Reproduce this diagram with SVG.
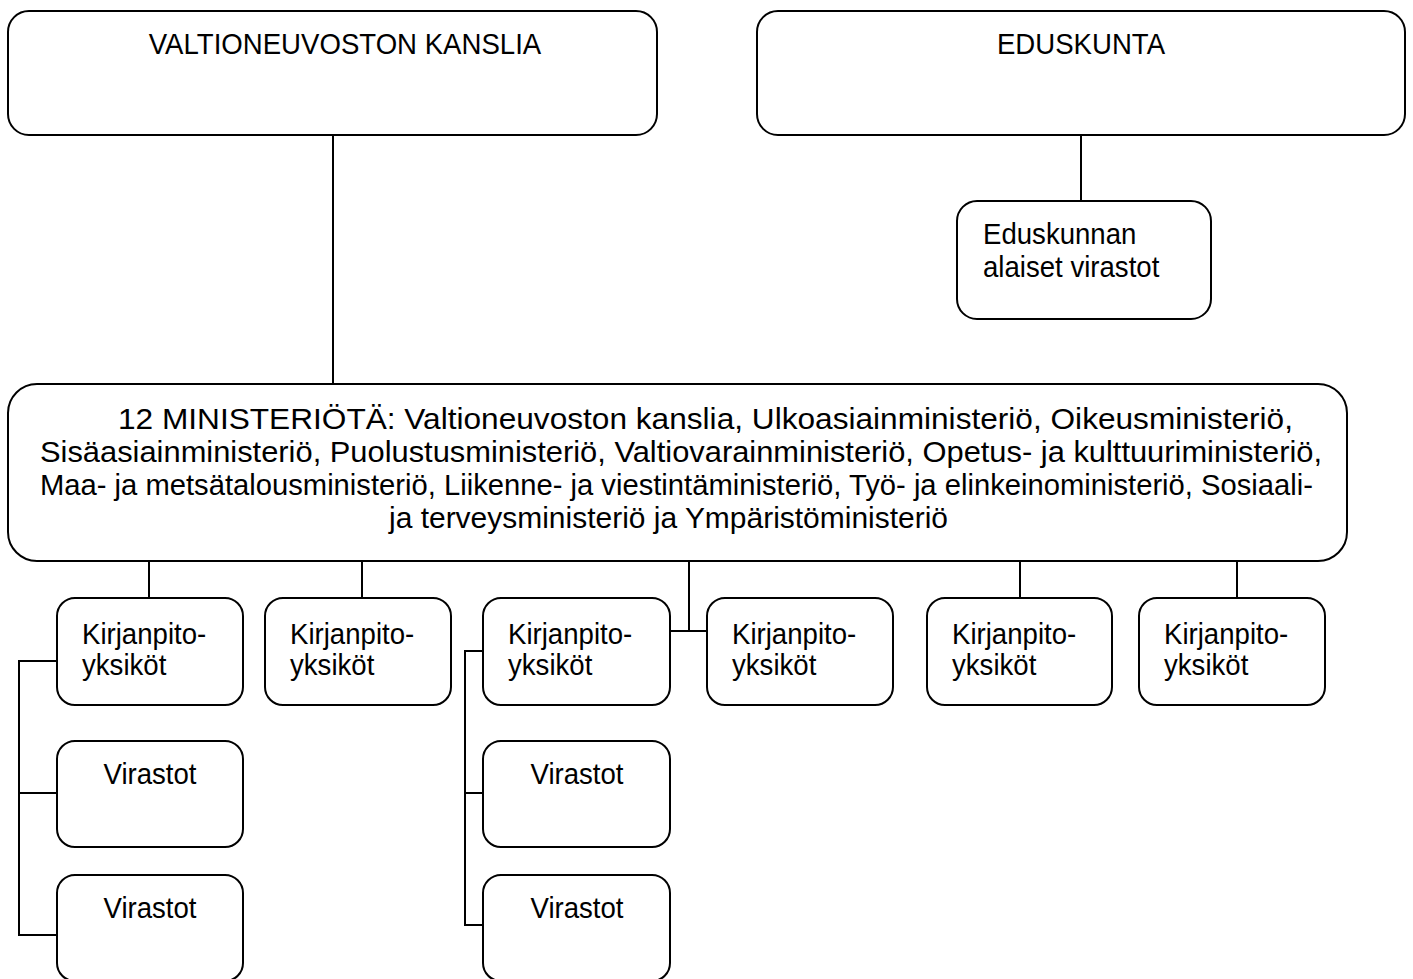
<svg xmlns="http://www.w3.org/2000/svg" width="1413" height="979" viewBox="0 0 1413 979">
<style>
.box{fill:#fff;stroke:#000;stroke-width:2}
.ln{fill:none;stroke:#000;stroke-width:2}
text{font-family:"Liberation Sans",Arial,sans-serif;font-size:30px;fill:#000}
.c{text-anchor:middle}
</style>
<rect width="1413" height="979" fill="#fff"/>
<g id="connectors">
<path class="ln" d="M333,135V384"/>
<path class="ln" d="M1081,135V201"/>
<path class="ln" d="M149,561V598M362,561V598M689,561V631M669,631H707M1020,561V598M1237,561V598"/>
<path class="ln" d="M57,661H19V935H57M19,793H57"/>
<path class="ln" d="M483,651H465V925H483M465,793H483"/>
</g>
<g id="valtioneuvoston-kanslia"><rect class="box" x="8" y="11" width="649" height="124" rx="21"/><text class="c" transform="translate(345,54) scale(0.92,1)">VALTIONEUVOSTON KANSLIA</text></g>
<g id="eduskunta"><rect class="box" x="757" y="11" width="648" height="124" rx="21"/><text class="c" transform="translate(1081,54) scale(0.92,1)">EDUSKUNTA</text></g>
<g id="eduskunnan-virastot"><rect class="box" x="957" y="201" width="254" height="118" rx="20"/><text transform="translate(983,244) scale(0.92,1)">Eduskunnan</text><text transform="translate(983,277) scale(0.92,1)">alaiset virastot</text></g>
<g id="ministeriot"><rect class="box" x="8" y="384" width="1339" height="177" rx="29"/>
<text x="118" y="429" textLength="1175" lengthAdjust="spacingAndGlyphs">12 MINISTERIÖTÄ: Valtioneuvoston kanslia, Ulkoasiainministeriö, Oikeusministeriö,</text>
<text x="40" y="462" textLength="1282" lengthAdjust="spacingAndGlyphs">Sisäasiainministeriö, Puolustusministeriö, Valtiovarainministeriö, Opetus- ja kulttuuriministeriö,</text>
<text x="40" y="495" textLength="1273" lengthAdjust="spacingAndGlyphs">Maa- ja metsätalousministeriö, Liikenne- ja viestintäministeriö, Työ- ja elinkeinoministeriö, Sosiaali-</text>
<text x="389" y="528" textLength="559" lengthAdjust="spacingAndGlyphs">ja terveysministeriö ja Ympäristöministeriö</text></g>
<g id="kp1"><rect class="box" x="57" y="598" width="186" height="107" rx="18"/><text transform="translate(82,644) scale(0.92,1)">Kirjanpito-</text><text transform="translate(82,675) scale(0.92,1)">yksiköt</text></g>
<g id="kp2"><rect class="box" x="265" y="598" width="186" height="107" rx="18"/><text transform="translate(290,644) scale(0.92,1)">Kirjanpito-</text><text transform="translate(290,675) scale(0.92,1)">yksiköt</text></g>
<g id="kp3"><rect class="box" x="483" y="598" width="187" height="107" rx="18"/><text transform="translate(508,644) scale(0.92,1)">Kirjanpito-</text><text transform="translate(508,675) scale(0.92,1)">yksiköt</text></g>
<g id="kp4"><rect class="box" x="707" y="598" width="186" height="107" rx="18"/><text transform="translate(732,644) scale(0.92,1)">Kirjanpito-</text><text transform="translate(732,675) scale(0.92,1)">yksiköt</text></g>
<g id="kp5"><rect class="box" x="927" y="598" width="185" height="107" rx="18"/><text transform="translate(952,644) scale(0.92,1)">Kirjanpito-</text><text transform="translate(952,675) scale(0.92,1)">yksiköt</text></g>
<g id="kp6"><rect class="box" x="1139" y="598" width="186" height="107" rx="18"/><text transform="translate(1164,644) scale(0.92,1)">Kirjanpito-</text><text transform="translate(1164,675) scale(0.92,1)">yksiköt</text></g>
<g id="v1"><rect class="box" x="57" y="741" width="186" height="106" rx="18"/><text class="c" transform="translate(150,784) scale(0.92,1)">Virastot</text></g>
<g id="v2"><rect class="box" x="57" y="875" width="186" height="106" rx="18"/><text class="c" transform="translate(150,918) scale(0.92,1)">Virastot</text></g>
<g id="v3"><rect class="box" x="483" y="741" width="187" height="106" rx="18"/><text class="c" transform="translate(577,784) scale(0.92,1)">Virastot</text></g>
<g id="v4"><rect class="box" x="483" y="875" width="187" height="106" rx="18"/><text class="c" transform="translate(577,918) scale(0.92,1)">Virastot</text></g>
</svg>
